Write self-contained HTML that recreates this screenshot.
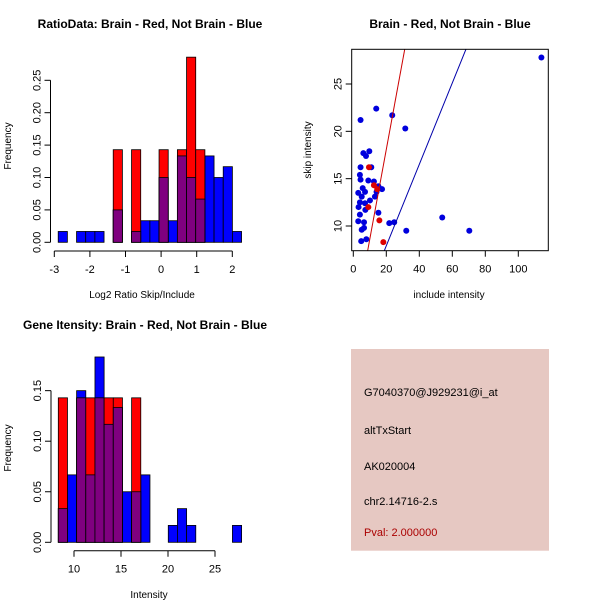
<!DOCTYPE html>
<html><head><meta charset="utf-8"><style>
html,body{margin:0;padding:0;background:#fff}
svg{display:block;font-family:"Liberation Sans",sans-serif}
</style></head><body>
<svg id="c" width="600" height="600" xmlns="http://www.w3.org/2000/svg">
<rect width="600" height="600" fill="#fff"/>
</svg>
<script>
// ---- Panel 1: log2 ratio histogram ----
const ratioBinStart = -2.89;
const ratioBinWidth = 0.2575;
const ratioBlue = [0.0167,0,0.0167,0.0167,0.0167,0,0.05,0,0.0167,0.0333,0.0333,0.1,0.0333,0.1333,0.1,0.0667,0.1333,0.1,0.1167,0.0167];
const ratioRed  = [0,0,0,0,0,0,0.1429,0,0.1429,0,0,0.1429,0,0.1429,0.2857,0.1429,0,0,0,0];
const ratioXTicks = [-3,-2,-1,0,1,2];
const ratioYTicks = [0,0.05,0.10,0.15,0.20,0.25];
const ratioYLabels = ["0.00","0.05","0.10","0.15","0.20","0.25"];
// ---- Panel 2: intensity histogram ----
const intBinStart = 8.33;
const intBinWidth = 0.975;
const intBlue = [0.0333,0.0667,0.15,0.0667,0.1833,0.1167,0.1333,0.05,0.05,0.0667,0,0,0.0167,0.0333,0.0167,0,0,0,0,0.0167];
const intRed  = [0.1429,0,0.1429,0.1429,0.1429,0.1429,0.1429,0,0.1429,0,0,0,0,0,0,0,0,0,0,0];
const intXTicks = [10,15,20,25];
const intYTicks = [0,0.05,0.10,0.15];
const intYLabels = ["0.00","0.05","0.10","0.15"];
// ---- Panel 3: scatter ----
const blueX = [114,4.4,13.9,23.6,31.5,53.9,70.3,32.1,15.2,21.8,24.8,17.4,9.7,6.1,7.7,4.4,10.9,4.0,4.4,9.1,12.5,5.7,3.0,5.1,7.1,10.1,13.1,4.0,7.1,3.2,7.3,4.0,3.0,6.5,5.1,6.5,4.8,7.9,15.2,14.1];
const blueY = [27.8,21.2,22.4,21.7,20.3,10.9,9.5,9.5,11.4,10.3,10.4,13.9,17.9,17.7,17.4,16.2,16.2,15.4,14.9,14.8,14.7,14.0,13.5,13.1,13.6,12.7,13.1,12.5,12.4,12.0,11.7,11.2,10.5,10.4,9.6,9.8,8.4,8.6,14.2,13.6];
const redX = [12.5,15.8,18.2,9.1,9.5,14.5];
const redY = [14.3,10.6,8.3,12.0,16.2,13.9];
const redLine = [-0.85,0.947];   // intercept, slope
const blueLine = [-0.69,0.43];
const scXTicks = [0,20,40,60,80,100];
const scYTicks = [10,15,20,25];

const svg = document.getElementById('c');
const NS = 'http://www.w3.org/2000/svg';
function mk(tag, attrs, parent){const e=document.createElementNS(NS,tag);for(const k in attrs)e.setAttribute(k,attrs[k]);(parent||svg).appendChild(e);return e;}
function txt(s,x,y,attrs,parent){const e=mk('text',Object.assign({x:x,y:y,'font-size':11,fill:'#000'},attrs||{}),parent);e.textContent=s;return e;}

function hist(g, cfg){
  const sx=v=>cfg.x0px+(v-cfg.x0)*cfg.kx, sy=v=>cfg.y0px-v*cfg.ky;
  const n=cfg.blue.length;
  for(let i=0;i<n;i++){
    const a=sx(cfg.start+i*cfg.w), b=sx(cfg.start+(i+1)*cfg.w);
    if(cfg.blue[i]>0){const r=mk('rect',{x:a,y:sy(cfg.blue[i]),width:b-a,height:cfg.blue[i]*cfg.ky,fill:'#0000ff',stroke:'#000','stroke-width':0.8},g);
      
      }
  }
  for(let i=0;i<n;i++){
    const a=sx(cfg.start+i*cfg.w), b=sx(cfg.start+(i+1)*cfg.w);
    if(cfg.red[i]>0){const r=mk('rect',{x:a,y:sy(cfg.red[i]),width:b-a,height:cfg.red[i]*cfg.ky,fill:'#ff0000',stroke:'#000','stroke-width':0.8},g);
      
      }
    const m=Math.min(cfg.blue[i],cfg.red[i]);
    if(m>0){const p=mk('rect',{x:a,y:sy(m),width:b-a,height:m*cfg.ky,fill:'#7f007f',stroke:'#000','stroke-width':0.8},g);
      
      }
  }
  // x axis
  const xa=mk('g',{},g);
  
  
  const xt=cfg.xticks;
  mk('line',{x1:sx(xt[0]),x2:sx(xt[xt.length-1]),y1:cfg.xaxisY,y2:cfg.xaxisY,stroke:'#000'},xa);
  xt.forEach(t=>{mk('line',{x1:sx(t),x2:sx(t),y1:cfg.xaxisY,y2:cfg.xaxisY+6,stroke:'#000'},xa);
    txt(String(t),sx(t),cfg.xaxisY+22,{'text-anchor':'middle'},xa);});
  const ya=mk('g',{},g);
  
  
  const yt=cfg.yticks;
  mk('line',{x1:cfg.yaxisX,x2:cfg.yaxisX,y1:sy(yt[0]),y2:sy(yt[yt.length-1]),stroke:'#000'},ya);
  yt.forEach((t,i)=>{mk('line',{x1:cfg.yaxisX-6,x2:cfg.yaxisX,y1:sy(t),y2:sy(t),stroke:'#000'},ya);
    txt(cfg.ylabels[i],0,0,{'text-anchor':'middle',transform:`translate(${cfg.yaxisX-10},${sy(t)}) rotate(-90)`},ya);});
}

// Panel 1
const g1=mk('g',{});


const t1=txt('RatioData: Brain - Red, Not Brain - Blue',150,28,{'text-anchor':'middle','font-weight':'bold','font-size':12},g1);


hist(g1,{x0:-3,x0px:54.3,kx:35.6,y0px:242.3,ky:648,start:ratioBinStart,w:ratioBinWidth,blue:ratioBlue,red:ratioRed,xticks:ratioXTicks,yticks:ratioYTicks,ylabels:ratioYLabels,xaxisY:251,yaxisX:50.5});
const xl1=txt('Log2 Ratio Skip/Include',142,298,{'text-anchor':'middle','font-size':10},g1);


const yl1=txt('Frequency',0,0,{'text-anchor':'middle','font-size':10,transform:'translate(11,146) rotate(-90)'},g1);



// Panel 2
const g2=mk('g',{});


const t2=txt('Gene Itensity: Brain - Red, Not Brain - Blue',145,329,{'text-anchor':'middle','font-weight':'bold','font-size':12},g2);


hist(g2,{x0:10,x0px:74,kx:9.4,y0px:542.3,ky:1011,start:intBinStart,w:intBinWidth,blue:intBlue,red:intRed,xticks:intXTicks,yticks:intYTicks,ylabels:intYLabels,xaxisY:550.7,yaxisX:51});
const xl2=txt('Intensity',149,598,{'text-anchor':'middle','font-size':10},g2);


const yl2=txt('Frequency',0,0,{'text-anchor':'middle','font-size':10,transform:'translate(11,448) rotate(-90)'},g2);



// Panel 3 scatter
const g3=mk('g',{});


const L=351.7,R=548.3,T=49.3,B=250.7;
const px=v=>353.3+v*1.65, py=v=>226-(v-10)*9.467;
const t3=txt('Brain - Red, Not Brain - Blue',450,28,{'text-anchor':'middle','font-weight':'bold','font-size':12},g3);


mk('defs',{}).innerHTML='<clipPath id="cp"><rect x="'+L+'" y="'+T+'" width="'+(R-L)+'" height="'+(B-T)+'"/></clipPath>';
const inner=mk('g',{'clip-path':'url(#cp)'},g3);
function fitLine(p,col,name){const x1=-10,x2=150;
  const l=mk('line',{x1:px(x1),y1:py(p[0]+p[1]*x1),x2:px(x2),y2:py(p[0]+p[1]*x2),stroke:col,'stroke-width':1},inner);
  
  }
blueX.forEach((x,i)=>{const c=mk('circle',{cx:px(x),cy:py(blueY[i]),r:3,fill:'#0000dd'},inner);
  
  });
redX.forEach((x,i)=>{const c=mk('circle',{cx:px(x),cy:py(redY[i]),r:3,fill:'#dd0000'},inner);
  
  });
fitLine(redLine,'#cc0000','red-fit-line');
fitLine(blueLine,'#0000aa','blue-fit-line');
const fr=mk('rect',{x:L,y:T,width:R-L,height:B-T,fill:'none',stroke:'#000'},g3);


scXTicks.forEach(t=>{mk('line',{x1:px(t),x2:px(t),y1:B,y2:B+6,stroke:'#000'},g3);
  txt(String(t),px(t),B+22,{'text-anchor':'middle'},g3);});
scYTicks.forEach(t=>{mk('line',{x1:L-6,x2:L,y1:py(t),y2:py(t),stroke:'#000'},g3);
  txt(String(t),0,0,{'text-anchor':'middle',transform:`translate(${L-10},${py(t)}) rotate(-90)`},g3);});
const xl3=txt('include intensity',449,298,{'text-anchor':'middle','font-size':10},g3);


const yl3=txt('skip intensity',0,0,{'text-anchor':'middle','font-size':10,transform:'translate(311,150) rotate(-90)'},g3);



// Info panel
const g4=mk('g',{});


mk('rect',{x:351,y:349,width:198,height:201.7,fill:'#e6c8c2'},g4);
const info=[['G7040370@J929231@i_at',396,'#000','probe-id'],['altTxStart',434,'#000','event-type'],['AK020004',470,'#000','accession'],['chr2.14716-2.s',505,'#000','location'],['Pval: 2.000000',536,'#aa0000','p-value']];
info.forEach(r=>{const e=txt(r[0],364,r[1],{'font-size':11,fill:r[2]},g4);
  
  });
</script>
</body></html>
